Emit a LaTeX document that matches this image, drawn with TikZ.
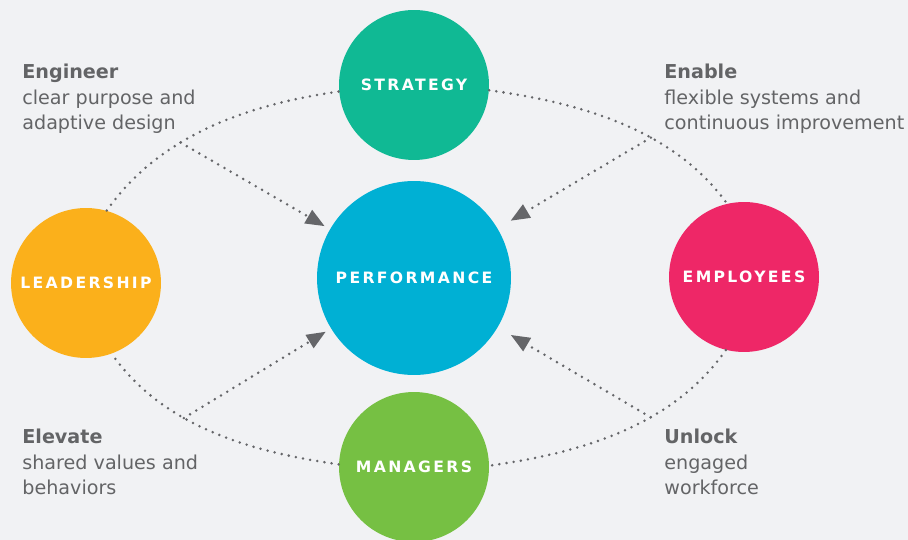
\documentclass[tikz,border=0pt]{standalone}
\usepackage{fontspec}
\setmainfont{DejaVu Sans}
\newfontfamily\capsfont[LetterSpace=15]{DejaVu Sans}
\usepackage{tikz}
\usetikzlibrary{arrows.meta}
\definecolor{bgray}{HTML}{F1F2F4}
\definecolor{tgray}{HTML}{636466}
\definecolor{dgray}{HTML}{656669}
\definecolor{cteal}{HTML}{10B994}
\definecolor{cblue}{HTML}{00B0D4}
\definecolor{cgold}{HTML}{FBB01B}
\definecolor{cpink}{HTML}{EE2767}
\definecolor{cgreen}{HTML}{76C043}

\begin{document}
\begin{tikzpicture}[x=0.02cm,y=0.02cm,
  main node/.style={circle,inner sep=0pt,minimum size=3cm,text=white,font=\capsfont\fontsize{8.9}{10}\selectfont\bfseries},
  ring/.style={draw=dgray,line width=0.056cm,line cap=round,dash pattern=on 0pt off 0.145cm},
  push/.style={ring,-{Triangle[length=0.38cm,width=0.3cm]}},
  side text/.style={anchor=north west,inner sep=0pt,align=left,text=tgray,font=\fontsize{10.9}{14.5}\selectfont}]

\useasboundingbox (0,0) rectangle (908,540);
\fill[bgray] (0,0) rectangle (908,540);

\node[main node,fill=cteal](S) at (414,455) {STRATEGY};
\node[main node,fill=cblue,minimum size=3.88cm](P) at (414,262) {PERFORMANCE};
\node[main node,fill=cgold](L) at (86,257) {LEADERSHIP};
\node[main node,fill=cpink](E) at (744,263) {EMPLOYEES};
\node[main node,fill=cgreen](M) at (414,73) {MANAGERS};

\node[side text](A1) at (22,476) {\textbf{Engineer}\\clear purpose and\\adaptive design};
\node[side text](A2) at (664,476) {\textbf{Enable}\\flexible systems and\\continuous improvement};
\node[side text](A3) at (22,111) {\textbf{Elevate}\\shared values and\\behaviors};
\node[side text](A4) at (664,111) {\textbf{Unlock}\\engaged\\workforce};

\path
(L.74) edge[ring,out=55,in=188,looseness=.9] node[coordinate,pos=.38](X1){} (S.185)
(S.356) edge[ring,out=-8,in=126,looseness=.9] node[coordinate,pos=.62](X2){} (E.103)
(E.256) edge[ring,out=235,in=8,looseness=.9] node[coordinate,pos=.38](X3){} (M.1)
(M.178) edge[ring,out=172,in=-55,looseness=.9] node[coordinate,pos=.62](X4){} (L.290);

\path
(X1) edge[push,shorten >=0.12cm] (P)
(X2) edge[push,shorten >=0.3cm] (P)
(X3) edge[push,shorten >=0.3cm] (P)
(X4) edge[push,shorten >=0.12cm] (P);

\end{tikzpicture}
\end{document}
